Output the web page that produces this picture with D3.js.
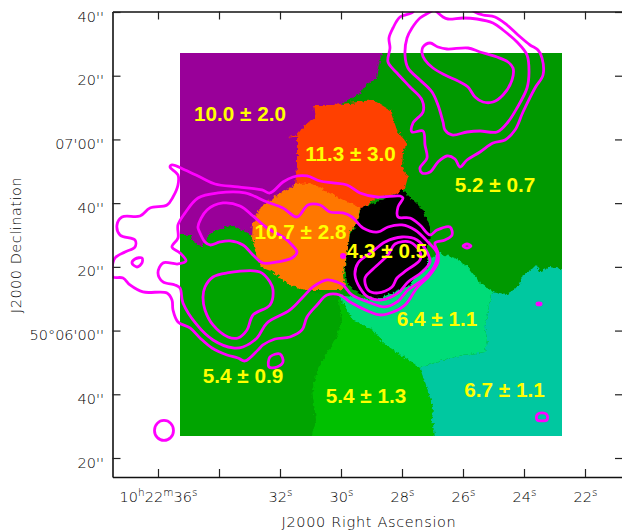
<!DOCTYPE html>
<html><head><meta charset="utf-8">
<script src="https://cdn.jsdelivr.net/npm/d3@7"></script>
<style>html,body{margin:0;padding:0;background:#fff}svg{display:block}</style>
</head><body><svg id="c" width="622" height="532"></svg>
<script>
// Sky axes: right ascension seconds (10h22m..) and declination arcsec from 50d06'00"
const raTicks = [36,34,32,30,28,26,24,22];
const raLabels = ["10^h22^m36^s","","32^s","30^s","28^s","26^s","24^s","22^s"];
const decTicks = [-40,-20,0,20,40,60,80,100];
const decLabels = ["20''","40''","50°06'00''","20''","40''","07'00''","20''","40''"];
// Section of the map grid (columns, rows) and its sky extent
const sectionCols = [180,562];
const sectionRows = [53,436];
const sectionRa = [35.279,22.754];
const sectionDec = [87.13,-33.08];
// Regions (grid col,row)
const regionDarkGreen = [[180,53],[562,53],[562,436],[180,436]];
const regionLowerLeft = [[174,233],[260,225],[300,290],[338,296],[342,320],[340,328],[335,340],[318,368],[312,390],[316,420],[310,442],[174,442]];
const regionMidGreen = [[338,296],[353,320],[373,330],[383,343],[413,363],[420,368],[425,383],[433,407],[432,420],[436,442],[310,442],[316,420],[312,390],[318,368],[335,340],[340,328],[342,320]];
const regionTeal = [[420,368],[443,360],[463,355],[485,352],[487,340],[485,327],[490,300],[493,292],[505,295],[517,288],[523,275],[533,268],[537,264],[539,272],[550,267],[568,270],[568,442],[436,442],[432,420],[433,407],[425,383]];
const regionLight = [[338,295],[375,300],[440,252],[445,255],[455,258],[468,267],[480,283],[493,292],[490,300],[485,327],[487,340],[485,352],[463,355],[443,360],[420,368],[413,363],[383,343],[373,330],[353,320]];
const regionPurple = [[174,47],[382,47],[382,53],[378,68],[376,78],[366,85],[360,93],[330,110],[310,190],[280,215],[262,235],[252,235],[242,230],[230,225],[218,230],[210,233],[205,243],[202,247],[192,240],[191,235],[174,235]];
const regionRed = [[313,105],[333,105],[358,102],[373,100],[390,110],[397,130],[407,142],[403,153],[402,167],[408,177],[405,188],[400,193],[377,198],[360,210],[333,210],[310,195],[295,185],[297,167],[297,147],[297,138],[288,137],[297,135],[303,127],[315,118]];
const regionOrange = [[297,184],[312,183],[333,195],[360,208],[358,222],[350,232],[347,255],[343,275],[345,285],[340,290],[305,290],[290,285],[273,272],[263,268],[257,258],[252,238],[253,223],[260,208],[277,195]];
const regionBlack = [[403,190],[413,200],[423,210],[430,227],[430,237],[427,247],[427,267],[407,287],[380,298],[367,297],[353,290],[347,282],[345,268],[350,235],[358,222],[361,208],[385,199]];
const regionColors = ["#00a400","#00c000","#00c8a0","#00dc78","#990099","#ff4000","#ff7700","#000000"];
// Contours (grid col,row)
const c1 = [[413,8],[413,12],[400,17],[393,28],[389,38],[390,48],[388,62],[397,73],[410,87],[422,100],[423,112],[413,123],[412,132],[423,131],[425,145],[427,158],[420,168],[422,173],[430,172],[438,162],[447,156],[455,159],[460,167],[467,160],[480,152],[493,143],[505,140],[515,130],[523,112],[535,88],[543,75],[542,58],[538,50],[530,45],[518,35],[507,25],[495,17],[483,15],[475,12],[470,8]];
const c2 = [[436,8],[430,12],[420,18],[412,28],[407,38],[405,55],[408,68],[420,80],[432,92],[438,105],[443,122],[445,130],[452,135],[467,132],[480,131],[497,132],[508,122],[517,108],[527,88],[529,72],[527,55],[517,42],[503,30],[493,23],[477,19],[463,18],[448,19],[443,17],[437,12],[433,8]];
const c3 = [[423,47],[430,43],[438,47],[447,49],[468,48],[480,52],[497,57],[508,62],[513,68],[512,80],[503,95],[493,102],[483,102],[475,97],[468,87],[460,82],[445,75],[433,68],[425,60],[422,53]];
const l1 = [[170,167],[172,165],[185,170],[202,178],[215,184],[238,187],[262,190],[270,193],[283,182],[293,177],[307,176],[320,181],[333,183],[347,185],[360,193],[377,197],[400,196],[403,198],[398,207],[398,217],[410,218],[420,225],[430,235],[437,230],[450,227],[452,235],[445,240],[435,243],[438,253],[438,262],[430,275],[417,288],[405,305],[393,312],[380,315],[370,312],[350,302],[340,295],[327,295],[317,305],[307,317],[302,330],[290,337],[275,339],[263,345],[258,350],[245,361],[238,358],[227,355],[212,348],[200,338],[190,328],[178,322],[173,310],[172,300],[167,293],[143,292],[130,285],[123,278],[113,277],[112,270],[115,258],[125,252],[135,247],[135,240],[120,235],[117,225],[122,217],[140,216],[150,208],[167,205],[173,197],[178,185],[178,175]];
const l2 = [[178,225],[185,213],[198,198],[218,193],[245,193],[267,202],[283,208],[297,217],[308,205],[320,205],[330,212],[343,213],[352,217],[363,228],[378,232],[388,227],[402,225],[415,230],[428,242],[437,253],[435,265],[425,278],[408,290],[397,302],[385,307],[368,302],[352,295],[343,285],[337,282],[327,280],[313,287],[303,297],[290,310],[267,323],[257,338],[243,347],[233,348],[213,340],[197,325],[183,303],[180,288],[175,285],[163,282],[158,273],[163,263],[178,264],[186,261],[180,253],[172,247],[178,238]];
const l3 = [[198,227],[207,210],[223,203],[240,206],[253,216],[267,228],[283,237],[292,245],[297,252],[292,258],[277,262],[263,263],[253,255],[243,245],[230,241],[220,242],[210,245],[205,242],[200,233]];
const l4 = [[205,287],[213,277],[227,273],[260,272],[270,282],[273,290],[270,305],[253,315],[247,330],[238,338],[228,337],[213,325],[205,310],[203,297]];
const m1 = [[355,275],[358,263],[372,252],[385,242],[402,237],[417,240],[427,252],[430,262],[422,272],[408,282],[398,293],[382,300],[368,297],[360,288]];
const i1 = [[365,278],[372,270],[388,255],[395,244],[410,242],[420,252],[420,260],[407,270],[397,278],[392,287],[378,293],[368,290]];
const small1 = [[132,263],[135,259],[142,258],[142,263],[137,267]];
const small2 = [[270,357],[280,354],[283,362],[277,367],[269,367]];
const small3 = [[463,246],[467,244],[471,246],[467,248]];
const small4 = [[537,415],[542,413],[547,415],[547,420],[542,421],[537,420]];
const dots = [[343,256,3,3],[539,304,3.5,2.4]];
const beam = [164,430.5,9.5,10];
// Labels
const labelText = ["10.0 ± 2.0","11.3 ± 3.0","10.7 ± 2.8","4.3 ± 0.5","5.2 ± 0.7","6.4 ± 1.1","5.4 ± 0.9","5.4 ± 1.3","6.7 ± 1.1"];
const labelCol = [240,350.5,300.5,387,495,437,243,366,504.5];
const labelRow = [121,161,239,258,192,326,383,403,397];

const svg = d3.select("#c");
const left=112.5,right=623,top_=11.5,bottom=477;
const x = d3.scaleLinear().domain([36,22]).range([158,585]);
const y = d3.scaleLinear().domain([-40,100]).range([458,12]);
const mx = d3.scaleLinear().domain(sectionCols).range(sectionRa.map(x));
const my = d3.scaleLinear().domain(sectionRows).range(sectionDec.map(y));

const defs = svg.append("defs");
defs.append("clipPath").attr("id","mapClip").append("rect").attr("x",mx(180)).attr("y",my(53)).attr("width",mx(562)-mx(180)).attr("height",my(436)-my(53));
defs.append("clipPath").attr("id","boxClip").append("rect").attr("x",left).attr("y",top_).attr("width",right-left).attr("height",bottom-top_);
const f = defs.append("filter").attr("id","rough").attr("x","-5%").attr("y","-5%").attr("width","110%").attr("height","110%");
f.append("feTurbulence").attr("type","fractalNoise").attr("baseFrequency",0.3).attr("numOctaves",2).attr("seed",4).attr("result","n");
f.append("feDisplacementMap").attr("in","SourceGraphic").attr("in2","n").attr("scale",5).attr("xChannelSelector","R").attr("yChannelSelector","G");

const poly = d3.line().x(d=>mx(d[0])).y(d=>my(d[1]));
const mapG = svg.append("g").attr("clip-path","url(#mapClip)");
mapG.append("path").attr("d",poly(regionDarkGreen)+"Z").attr("fill","#009900");
const rough = mapG.append("g").attr("filter","url(#rough)");
rough.selectAll("path").data([regionLowerLeft,regionMidGreen,regionTeal,regionLight,regionPurple,regionRed,regionOrange,regionBlack])
 .join("path").attr("d",d=>poly(d)+"Z").attr("fill",(d,i)=>regionColors[i]);

const closed = d3.line().x(d=>mx(d[0])).y(d=>my(d[1])).curve(d3.curveCatmullRomClosed.alpha(0.5));
const open = d3.line().x(d=>mx(d[0])).y(d=>my(d[1])).curve(d3.curveCatmullRom.alpha(0.5));
const cg = svg.append("g").attr("clip-path","url(#boxClip)").attr("fill","none").attr("stroke","#ff00ff").attr("stroke-width",2.8);
cg.selectAll("path.o").data([c1,c2]).join("path").attr("class","o").attr("d",open);
cg.selectAll("path.c").data([c3,l1,l2,l3,l4,m1,i1,small1,small2,small3,small4]).join("path").attr("class","c").attr("d",closed);
cg.selectAll("ellipse.d").data(dots).join("ellipse").attr("class","d").attr("cx",d=>mx(d[0])).attr("cy",d=>my(d[1])).attr("rx",d=>d[2]).attr("ry",d=>d[3]).attr("fill","#ff00ff").attr("stroke","none");
cg.append("ellipse").attr("cx",mx(beam[0])).attr("cy",my(beam[1])).attr("rx",beam[2]).attr("ry",beam[3]);

svg.append("g").selectAll("text").data(labelText).join("text")
 .attr("x",(d,i)=>mx(labelCol[i])).attr("y",(d,i)=>my(labelRow[i])).attr("text-anchor","middle")
 .attr("font-family","Liberation Sans").attr("font-weight","bold").attr("font-size",20.7).attr("fill","#ffff00").text(d=>d);

// Axes
const xA = d3.scaleLinear().domain([x.invert(left),x.invert(right)]).range([left,right]);
const yA = d3.scaleLinear().domain([y.invert(bottom),y.invert(top_)]).range([bottom,top_]);
const tickFont = g=>g.attr("font-family","DejaVu Sans").attr("font-size",14.5).attr("font-weight",200);
const style = g=>{g.selectAll(".domain").attr("stroke","#111").attr("stroke-width",1.6);g.selectAll(".tick line").attr("stroke","#222").attr("stroke-width",1.2);};
const gb = svg.append("g").attr("transform",`translate(0,${bottom})`).call(d3.axisBottom(xA).tickValues(raTicks).tickSize(-8).tickSizeOuter(0).tickFormat((d,i)=>raLabels[i])).call(style).call(tickFont);
gb.selectAll("text").attr("fill","#000").attr("dy",0).attr("y",25).each(function(){
  const s=d3.select(this),t=s.text();s.text(null);
  t.split(/(\^.)/).filter(p=>p).forEach(p=>{
    if(p[0]==="^"){s.append("tspan").attr("dy",-6).attr("font-size",10.5).text(p[1]);s.append("tspan").attr("dy",6).attr("font-size",1).text("\u200a");}
    else s.append("tspan").text(p);
  });
});
svg.append("g").attr("transform",`translate(0,${top_})`).call(d3.axisTop(xA).tickValues(raTicks).tickSize(-8).tickSizeOuter(0).tickFormat("")).call(style);
const gl = svg.append("g").attr("transform",`translate(${left},0)`).call(d3.axisLeft(yA).tickValues(decTicks).tickSize(-8).tickSizeOuter(0).tickFormat((d,i)=>decLabels[i])).call(style).call(tickFont);
gl.selectAll("text").attr("fill","#000").attr("dy",0).attr("y",9).attr("x",-8.5);
svg.append("g").attr("transform",`translate(${right},0)`).call(d3.axisRight(yA).tickValues(decTicks).tickSize(-8).tickSizeOuter(0).tickFormat("")).call(style);
svg.append("text").attr("x",369).attr("y",527).attr("text-anchor","middle").attr("font-family","DejaVu Sans").attr("font-weight",200).attr("font-size",14.5).attr("letter-spacing",0.65).attr("fill","#000").text("J2000 Right Ascension");
svg.append("text").attr("transform","translate(21,245) rotate(-90)").attr("text-anchor","middle").attr("font-family","DejaVu Sans").attr("font-weight",200).attr("font-size",14.5).attr("letter-spacing",0.5).attr("fill","#000").text("J2000 Declination");
</script></body></html>
